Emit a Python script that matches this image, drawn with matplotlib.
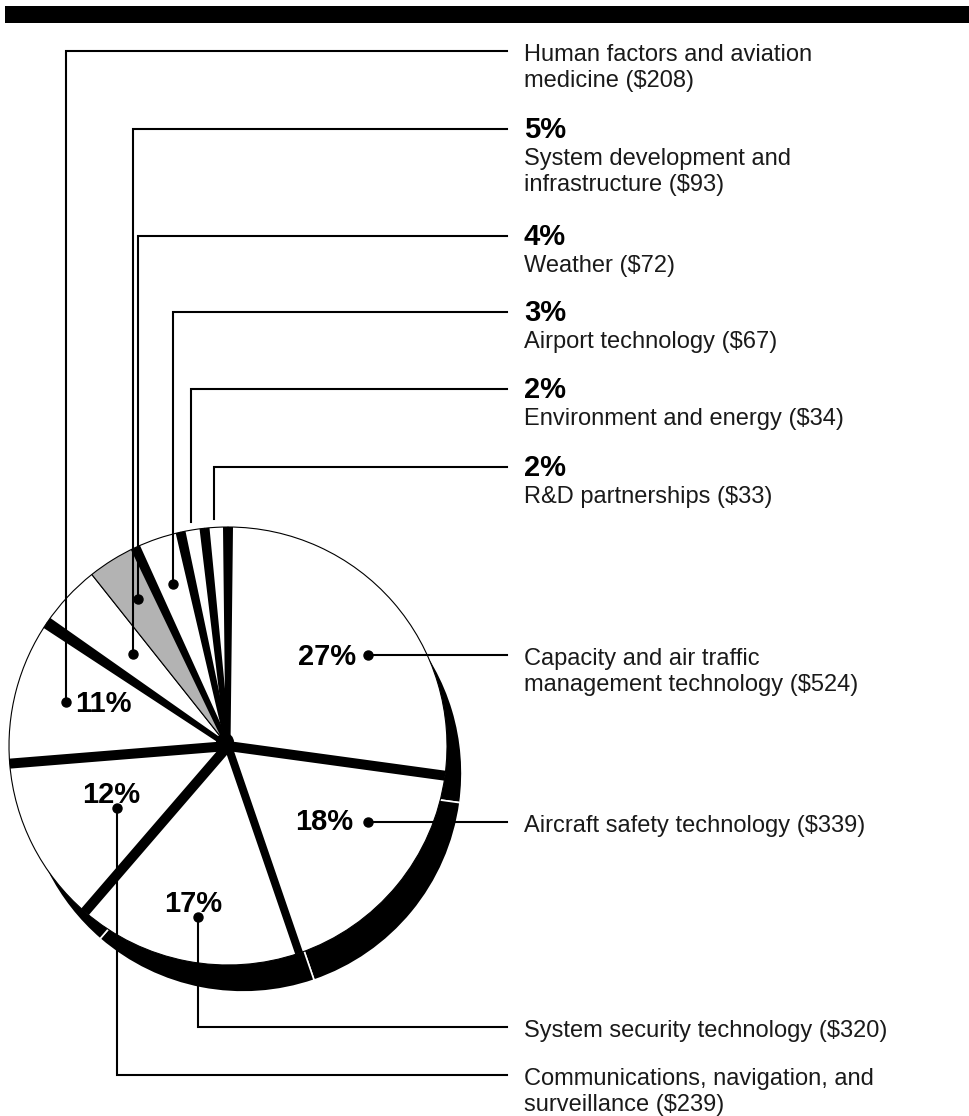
import numpy as np
import matplotlib
matplotlib.use("Agg")
import matplotlib.pyplot as plt

plt.rcParams['font.family'] = ['Liberation Sans', 'DejaVu Sans']

# slices, clockwise from 12 o'clock (dollars in millions)
categories = ["Capacity and air traffic management technology",
              "Aircraft safety technology",
              "System security technology",
              "Communications, navigation, and surveillance",
              "Human factors and aviation medicine",
              "System development and infrastructure",
              "Weather",
              "Airport technology",
              "Environment and energy",
              "R&D partnerships"]
amounts = [524, 339, 320, 239, 208, 93, 72, 67, 34, 33]
percents = ["27%", "18%", "17%", "12%", "11%", "5%", "4%", "3%", "2%", "2%"]
label_lines = [
    ["Capacity and air traffic", "management technology ($524)"],
    ["Aircraft safety technology ($339)"],
    ["System security technology ($320)"],
    ["Communications, navigation, and", "surveillance ($239)"],
    ["Human factors and aviation", "medicine ($208)"],
    ["System development and", "infrastructure ($93)"],
    ["Weather ($72)"],
    ["Airport technology ($67)"],
    ["Environment and energy ($34)"],
    ["R&D partnerships ($33)"],
]
wedge_colors = ["white"] * 6 + ["#b3b3b3"] + ["white"] * 3

# layout (pixels, y down)
W, H = 969, 1116
cx, cy, r = 228, 746, 219
depth = (15, 27)
sep_rim = [10, 8, 10, 10, 12, 0, 10, 10, 10, 10]
sep_hub = [10, 8, 10, 10, 5, 0, 5, 5, 5, 5]
line_y = [655, 822, 1027, 1075, 51, 129, 236, 312, 389, 467]
anchors = [(368, 655), (368, 822), (198, 917), (117, 808), (66, 702),
           (133, 654), (138, 599), (173, 584), (191, 522), (214, 519)]
has_dot = [True] * 8 + [False] * 2
inner_pct = [(356, 665, 'right'), (353, 830, 'right'), (193, 912, 'center'),
             (111, 803, 'center'), (75, 712, 'left')]
line_end = 507
text_x = 524

fig = plt.figure(figsize=(W / 100, H / 100), dpi=100)
ax = fig.add_axes([0, 0, 1, 1])

# top bar
ax.add_patch(plt.Rectangle((5, 6), W - 5, 17, color="black", lw=0))

# depth of the disc, shifted down and right
ax.pie(amounts, center=(cx + depth[0], cy + depth[1]), radius=r,
       startangle=-90, counterclock=True, colors=["black"] * len(amounts),
       wedgeprops=dict(edgecolor="white", linewidth=1.2))
ax.pie(amounts, center=(cx, cy), radius=r, startangle=-90, counterclock=True,
       colors=wedge_colors, wedgeprops=dict(edgecolor="black", linewidth=0.8))

# thick black separators between slices
total = sum(amounts)
cum = np.cumsum(amounts)
for k, c in enumerate(cum):
    if sep_rim[k] == 0:
        continue
    th = np.deg2rad(-90 + 360 * c / total)
    u = np.array([np.cos(th), np.sin(th)])
    n = np.array([-np.sin(th), np.cos(th)])
    o = np.array([cx, cy])
    pts = np.array([o + n * sep_hub[k] / 2, o - n * sep_hub[k] / 2,
                    o + u * r - n * sep_rim[k] / 2, o + u * r + n * sep_rim[k] / 2])
    ax.fill(pts[:, 0], pts[:, 1], color="black", lw=0, zorder=3)
# hub
ax.add_patch(plt.Circle((cx - 3, cy - 4), 9, color="black", lw=0, zorder=3))

# leader lines and labels
for i in range(len(categories)):
    ax_, ay_ = anchors[i]
    ly = line_y[i]
    if ay_ != ly:
        ax.plot([ax_, ax_, line_end], [ay_, ly, ly], color="black", lw=1.5,
                solid_joinstyle="miter", zorder=4)
    else:
        ax.plot([ax_, line_end], [ly, ly], color="black", lw=1.5, zorder=4)
    if has_dot[i]:
        ax.plot(ax_, ay_, "o", color="black", ms=6.5, zorder=5)

    if i < 5:
        px, py, ha = inner_pct[i]
        ax.text(px, py, percents[i], fontsize=21, fontweight="bold",
                ha=ha, va="baseline", zorder=6)
        y0 = ly + 10
    else:
        ax.text(text_x, ly + 9, percents[i], fontsize=21, fontweight="bold",
                ha="left", va="baseline")
        y0 = ly + 36
    for j, s in enumerate(label_lines[i]):
        ax.text(text_x, y0 + 26 * j, s, fontsize=17, color="#1a1a1a",
                ha="left", va="baseline")

ax.set_xlim(0, W)
ax.set_ylim(H, 0)
ax.set_aspect("equal")
ax.axis("off")
fig.savefig("out.png", dpi=100)
